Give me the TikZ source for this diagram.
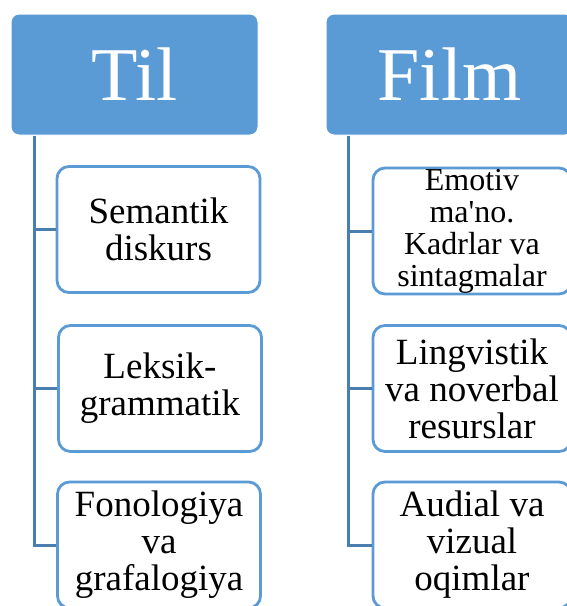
\documentclass[tikz,border=0pt]{standalone}
\usepackage{fontspec}
\setmainfont{Liberation Serif}
\definecolor{hdr}{HTML}{5B9BD5}
\definecolor{conn}{HTML}{4A7DB0}
\begin{document}
\begin{tikzpicture}[x=1pt,y=-1pt,
  header/.style={draw=white,line width=1pt,fill=hdr,rounded corners=8pt,minimum width=247pt,minimum height=121pt,inner sep=0pt,text=white,font=\fontsize{76}{76}\selectfont},
  child/.style={draw=hdr,line width=2.8pt,fill=white,rounded corners=12pt,minimum width=203pt,minimum height=126pt,inner sep=0pt,align=center,font=\fontsize{37}{37}\selectfont},
  childsmall/.style={child,font=\fontsize{32}{32}\selectfont},
  link/.style={draw=conn,line width=3pt}]
\useasboundingbox (0,0) rectangle (567,606);
\clip (0,0) rectangle (567,606);
\node[header] (til) at (134.5,74.5) {Til};
\node[header] (film) at (449.5,74.5) {Film};
\node[child] (sem) at (158.5,229.5) {Semantik\\diskurs};
\node[child] (lek) at (160,388.5) {Leksik-\\grammatik};
\node[child] (fon) at (159,545) {Fonologiya\\va\\grafalogiya};
\node[childsmall,minimum width=198pt] (emo) at (472,231) {Emotiv\\ma\textquotesingle no.\\Kadrlar va\\sintagmalar};
\node[child,minimum width=198pt] (lin) at (472,388.5) {Lingvistik\\va noverbal\\resurslar};
\node[child,minimum width=198pt] (aud) at (472,545) {Audial va\\vizual\\oqimlar};
\draw[link] ([xshift=24pt]til.south west) |- (fon.west);
\draw[link] ([xshift=24pt]til.south west |- sem.west) -- (sem.west);
\draw[link] ([xshift=24pt]til.south west |- lek.west) -- (lek.west);
\draw[link] ([xshift=23pt]film.south west) |- (aud.west);
\draw[link] ([xshift=23pt]film.south west |- emo.west) -- (emo.west);
\draw[link] ([xshift=23pt]film.south west |- lin.west) -- (lin.west);
\end{tikzpicture}
\end{document}
